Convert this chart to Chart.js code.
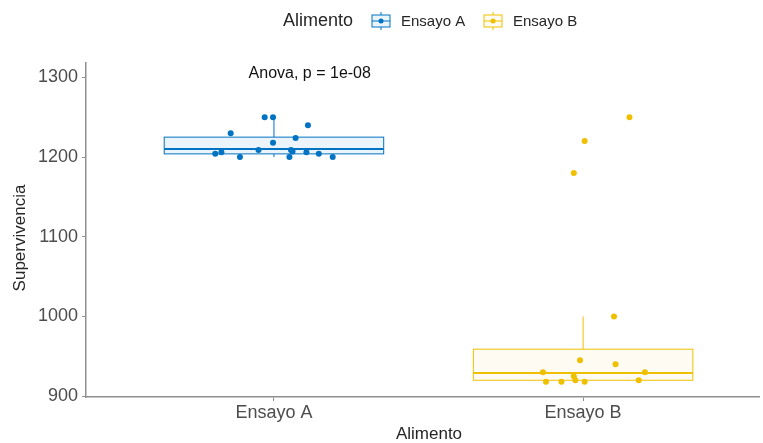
<!DOCTYPE html>
<html>
<head>
<meta charset="utf-8">
<script src="https://cdn.jsdelivr.net/npm/chart.js@4.4.1/dist/chart.umd.min.js"></script>
<style>
  html, body { margin: 0; padding: 0; background: #fff; }
  #wrap { width: 763px; height: 443px; position: relative; }
</style>
</head>
<body>
<div id="wrap"><canvas id="chart"></canvas></div>
<script>
// categories and tick labels
const categories = ["Ensayo A", "Ensayo B"];
const yTicks = [900, 1000, 1100, 1200, 1300];

const valuesA = [1250, 1250, 1230, 1240, 1224, 1218, 1206, 1204, 1200, 1209, 1209, 1200, 1206, 1204, 1200, 1207];
const jitterA = [-0.03, -0.003, -0.14, 0.11, 0.07, -0.003, -0.17, -0.19, -0.11, -0.05, 0.055, 0.05, 0.105, 0.145, 0.19, 0.06];
const valuesB = [1250, 1220, 1180, 1000, 945, 940, 930, 930, 918, 918, 925, 920, 918, 920];
const jitterB = [0.15, 0.005, -0.03, 0.1, -0.01, 0.105, -0.13, 0.2, -0.12, -0.07, -0.03, -0.025, 0.005, 0.18];

// box statistics
const whiskerLow = [1200, 918];
const q1 = [1204, 920];
const median = [1210, 929];
const q3 = [1225, 959];
const whiskerHigh = [1250, 1000];

const colors = ["#0073C2", "#EFC000"];
const fills = ["rgba(0,115,194,0.08)", "rgba(239,192,0,0.05)"];
const axisColor = "#8f8f8f";
const tickColor = "#4d4d4d";
const titleColor = "#262626";
const font = "'Liberation Sans', Arial, sans-serif";

function toPoints(values, jitter, pos) {
    return values.map((v, i) => ({ x: pos + jitter[i], y: v }));
}

const boxPlugin = {
    id: "boxes",
    beforeDatasetsDraw(chart) {
        const ctx = chart.ctx;
        const xs = chart.scales.x;
        const ys = chart.scales.y;
        const half = 0.355;
        for (let i = 0; i < categories.length; i++) {
            const pos = i + 1;
            const cx = xs.getPixelForValue(pos);
            const l = xs.getPixelForValue(pos - half);
            const r = xs.getPixelForValue(pos + half);
            const top = ys.getPixelForValue(q3[i]);
            const bot = ys.getPixelForValue(q1[i]);
            ctx.save();
            ctx.strokeStyle = colors[i];
            ctx.fillStyle = fills[i];
            ctx.lineWidth = 1;
            // whiskers
            ctx.beginPath();
            ctx.moveTo(cx, top);
            ctx.lineTo(cx, ys.getPixelForValue(whiskerHigh[i]));
            ctx.moveTo(cx, bot);
            ctx.lineTo(cx, ys.getPixelForValue(whiskerLow[i]));
            ctx.stroke();
            // box
            ctx.fillRect(l, top, r - l, bot - top);
            ctx.strokeRect(l, top, r - l, bot - top);
            // median
            ctx.lineWidth = 2;
            ctx.beginPath();
            const m = ys.getPixelForValue(median[i]);
            ctx.moveTo(l, m);
            ctx.lineTo(r, m);
            ctx.stroke();
            ctx.restore();
        }
    },
    afterDraw(chart) {
        const ctx = chart.ctx;
        const xs = chart.scales.x;
        const ys = chart.scales.y;
        ctx.save();
        // anova label
        ctx.fillStyle = "#111";
        ctx.font = "16px " + font;
        ctx.textAlign = "left";
        ctx.textBaseline = "middle";
        ctx.fillText("Anova, p = 1e-08", xs.getPixelForValue(0.918), ys.getPixelForValue(1305));

        // axis titles
        ctx.fillStyle = titleColor;
        ctx.font = "17px " + font;
        ctx.textAlign = "center";
        ctx.fillText("Alimento", 429, 434);
        ctx.save();
        ctx.translate(20, 238);
        ctx.rotate(-Math.PI / 2);
        ctx.fillText("Supervivencia", 0, 0);
        ctx.restore();

        // legend
        ctx.textAlign = "left";
        ctx.font = "18px " + font;
        ctx.fillText("Alimento", 283, 21);
        const keyX = [371, 483];
        const labelX = [401, 513];
        for (let i = 0; i < categories.length; i++) {
            const kx = keyX[i], cy = 21;
            ctx.strokeStyle = colors[i];
            ctx.lineWidth = 1;
            ctx.beginPath();
            ctx.moveTo(kx + 10, 12);
            ctx.lineTo(kx + 10, 30);
            ctx.stroke();
            ctx.fillStyle = "#fff";
            ctx.fillRect(kx + 1, cy - 6, 18, 12);
            ctx.fillStyle = fills[i];
            ctx.fillRect(kx + 1, cy - 6, 18, 12);
            ctx.strokeRect(kx + 1, cy - 6, 18, 12);
            ctx.beginPath();
            ctx.moveTo(kx + 1, cy);
            ctx.lineTo(kx + 19, cy);
            ctx.stroke();
            ctx.fillStyle = colors[i];
            ctx.beginPath();
            ctx.arc(kx + 10, cy, 2.5, 0, Math.PI * 2);
            ctx.fill();
            ctx.fillStyle = titleColor;
            ctx.font = "15px " + font;
            ctx.fillText(categories[i], labelX[i], cy + 1);
        }
        ctx.restore();
    }
};

new Chart(document.getElementById("chart"), {
    type: "scatter",
    data: {
        datasets: [
            { label: categories[0], data: toPoints(valuesA, jitterA, 1), backgroundColor: colors[0], borderWidth: 0, pointRadius: 3 },
            { label: categories[1], data: toPoints(valuesB, jitterB, 2), backgroundColor: colors[1], borderWidth: 0, pointRadius: 3 }
        ]
    },
    options: {
        responsive: true,
        maintainAspectRatio: false,
        animation: false,
        layout: { padding: { top: 63, left: 0, right: 0, bottom: 0 } },
        plugins: { legend: { display: false }, tooltip: { enabled: false } },
        scales: {
            x: {
                type: "linear",
                min: 0.392,
                max: 2.569,
                afterBuildTicks: s => { s.ticks = [{ value: 1 }, { value: 2 }]; },
                afterFit: s => { s.height = 46; },
                ticks: {
                    callback: v => categories[v - 1],
                    color: tickColor,
                    font: { family: font, size: 18 },
                    padding: 1
                },
                grid: { drawOnChartArea: false, drawTicks: true, tickLength: 4, color: axisColor },
                border: { color: axisColor, width: 1.5 }
            },
            y: {
                min: 899,
                max: 1318,
                afterBuildTicks: s => { s.ticks = yTicks.map(v => ({ value: v })); },
                afterFit: s => { s.width = 86; },
                ticks: {
                    callback: v => String(v),
                    color: tickColor,
                    font: { family: font, size: 18 },
                    padding: 4
                },
                grid: { drawOnChartArea: false, drawTicks: true, tickLength: 4, color: axisColor },
                border: { color: axisColor, width: 1.5 }
            }
        }
    },
    plugins: [boxPlugin]
});
</script>
</body>
</html>
